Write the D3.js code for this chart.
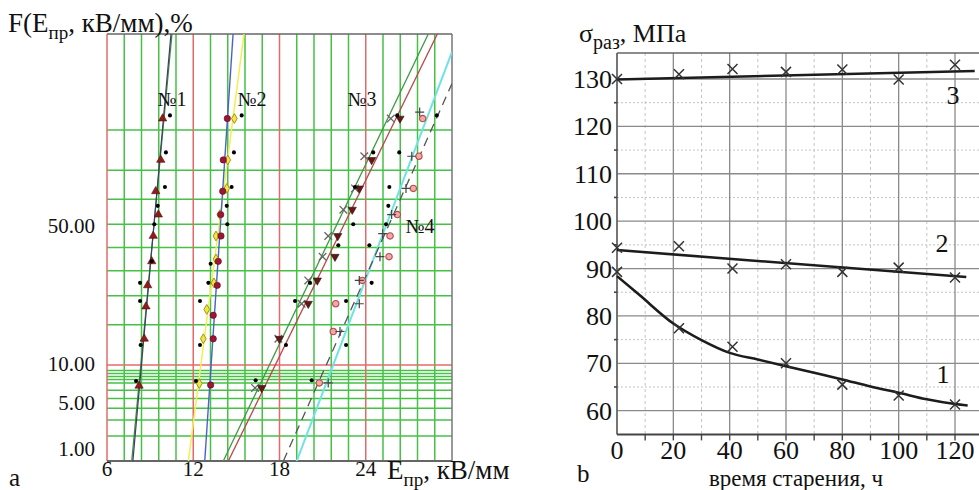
<!DOCTYPE html>
<html>
<head>
<meta charset="utf-8">
<script src="https://cdn.jsdelivr.net/npm/d3@7"></script>
<style>
body{margin:0;background:#fff;}
svg text{font-family:"Liberation Serif","Times New Roman","DejaVu Serif",serif;fill:#111;}
</style>
</head>
<body>
<svg id="chart" width="979" height="490"></svg>
<script>
// ---------- panel a : E_pr (kV/mm) vs F (%) on probability paper ----------
var xTicksA = [6, 12, 18, 24];
var yTicksA = [50, 10, 5, 1];
var yGridA = [2, 3, 4, 5, 6, 7, 7.5, 8, 8.5, 9, 10, 20, 30, 40, 50, 60, 70, 80, 90];

// №1
var g1TriE = [9.87, 9.74, 9.39, 9.57, 9.22, 9.11, 8.83, 8.71, 8.59, 8.23];
var g1TriF = [92, 83, 73, 64, 55, 44, 34, 26, 16, 6.6];
var g1DotE = [10.38, 10.10, 10.03, 9.53, 9.29, 9.11, 8.30, 8.30, 8.34, 8.02];
var g1DotF = [92.5, 85, 74.5, 67.5, 60, 44, 35, 28, 14.4, 7.3];
// №2
var g2CirE = [14.37, 14.09, 14.05, 13.91, 13.93, 13.74, 13.67, 13.39, 13.39, 13.21];
var g2CirF = [92, 83, 73, 64, 55, 44, 34, 23, 16, 6.7];
var g2DiaE = [14.86, 14.40, 14.33, 13.86, 13.58, 13.58, 13.44, 12.94, 12.70, 12.42];
var g2DiaF = [92, 83, 74, 64, 55, 45, 35, 25, 16, 6.9];
var g2DotE = [15.37, 14.83, 14.67, 14.33, 14.37, 13.21, 13.05, 12.47, 12.47, 12.19];
var g2DotF = [92.5, 85, 74.5, 67.5, 60, 43, 35, 28, 14.4, 7.3];
// №3
var g3CrsE = [25.74, 23.90, 23.25, 22.44, 21.39, 21.00, 20.00, 19.54, 17.92, 16.30];
var g3CrsF = [92, 84, 74, 66, 55, 46, 36, 27, 16, 6.3];
var g3TriE = [26.38, 24.41, 23.55, 23.06, 22.05, 21.86, 20.63, 20.00, 17.99, 16.76];
var g3TriF = [92, 83, 74, 66, 55, 46, 36, 27, 16, 6.3];
var g3DotE = [26.19, 24.52, 23.25, 23.13, 22.09, 20.12, 19.08, 18.45, 16.34];
var g3DotF = [92.5, 85, 74.5, 60, 51, 35, 28, 14.4, 7.4];
// №4
var g4CirE = [27.96, 27.70, 27.31, 26.20, 25.69, 25.62, 23.76, 21.91, 21.74, 20.77];
var g4CirF = [92, 84, 74, 64, 55, 46, 36, 27, 18, 7];
var g4PlsE = [27.75, 27.2, 26.8, 25.8, 25.18, 24.99, 23.55, 23.55, 22.21, 21.39];
var g4PlsF = [93, 84, 74, 64, 56, 46, 36, 27, 18, 7];
var g4DotE = [28.94, 26.33, 25.64, 25.57, 25.41, 24.25, 24.41, 22.63, 22.63, 20.24];
var g4DotF = [92.5, 85, 74.5, 67.5, 60, 51, 35, 28, 14.4, 7.4];

// fitted straight lines (E at the two ends, F at the two ends)
var fitF = [1, 99];
var fit1aE = [7.80, 10.45];
var fit1bE = [7.72, 10.52];
var fit2aE = [12.80, 14.77];
var fit2bE = [11.66, 15.53];
var fit3aE = [14.09, 28.35];
var fit3bE = [14.44, 28.98];
var fit4aE = [18.27, 30];
var fit4aF = [1, 96.3];
var fit4bE = [19.2, 30];
var fit4bF = [1, 98.35];

// ---------- panel b : strength vs ageing time ----------
var tHours = [0, 22, 41, 60, 80, 100, 120];
var sigma1 = [89.3, 77.4, 73.5, 70.0, 65.5, 63.2, 61.3];
var sigma2 = [94.4, 94.7, 90.0, 90.9, 89.3, 90.2, 88.1];
var sigma3 = [130.0, 131.0, 132.1, 131.5, 132.0, 129.9, 133.0];
var curve1T = [0, 8, 20, 30, 40, 50, 60, 70, 80, 90, 100, 110, 120, 124.5];
var curve1 = [88.4, 84.4, 78.4, 74.9, 72.2, 70.8, 69.4, 68.0, 66.6, 65.1, 63.8, 62.4, 61.4, 61.1];
var curve2T = [0, 124];
var curve2 = [93.9, 88.2];
var curve3T = [0, 127];
var curve3 = [129.9, 131.7];
var xTicksB = [0, 20, 40, 60, 80, 100, 120];
var yTicksB = [60, 70, 80, 90, 100, 110, 120, 130];

// inverse normal cdf (Acklam)
function probit(p){
    var a = [-39.69683028665376, 220.9460984245205, -275.9285104469687, 138.3577518672690, -30.66479806614716, 2.506628277459239];
    var b = [-54.47609879822406, 161.5858368580409, -155.6989798598866, 66.80131188771972, -13.28068155288572];
    var c = [-0.007784894002430293, -0.3223964580411365, -2.400758277161838, -2.549732539343734, 4.374664141464968, 2.938163982698783];
    var d = [0.007784695709041462, 0.3224671290700398, 2.445134137142996, 3.754408661907416];
    var q, r;
    if (p < 0.02425){
        q = Math.sqrt(-2*Math.log(p));
        return (((((c[0]*q+c[1])*q+c[2])*q+c[3])*q+c[4])*q+c[5]) / ((((d[0]*q+d[1])*q+d[2])*q+d[3])*q+1);
    }
    if (p > 1 - 0.02425){
        q = Math.sqrt(-2*Math.log(1-p));
        return -(((((c[0]*q+c[1])*q+c[2])*q+c[3])*q+c[4])*q+c[5]) / ((((d[0]*q+d[1])*q+d[2])*q+d[3])*q+1);
    }
    q = p - 0.5; r = q*q;
    return (((((a[0]*r+a[1])*r+a[2])*r+a[3])*r+a[4])*r+a[5])*q / (((((b[0]*r+b[1])*r+b[2])*r+b[3])*r+b[4])*r+1);
}

function pts(E, F){
    return E.map(function(e, i){ return {E: e, F: F[i]}; });
}

var svg = d3.select("#chart");
svg.append("rect").attr("width", 979).attr("height", 490).attr("fill", "#fff");

// ===== panel a =====
var xA = d3.scaleLinear().domain([6, 30]).range([107, 452]);
var zA = d3.scaleLinear().domain([probit(0.01), probit(0.99)]).range([461, 34]);
function yA(f){ return zA(probit(f/100)); }

var green = "#46c146", red = "#e46a6a";
var gA = svg.append("g");
svg.append("clipPath").attr("id", "clipA").append("rect")
    .attr("x", 107).attr("y", 34).attr("width", 345).attr("height", 427);

var vGrid = d3.range(6, 29.99, 1.2);
gA.selectAll(".vg").data(vGrid.filter(function(v){ return Math.abs(v/6 - Math.round(v/6)) > 0.01; }))
  .enter().append("line")
    .attr("x1", function(d){ return xA(d); }).attr("x2", function(d){ return xA(d); })
    .attr("y1", 34).attr("y2", 461).attr("stroke", green).attr("stroke-width", 1.5);
gA.selectAll(".hg").data(yGridA.filter(function(v){ return v != 10; }))
  .enter().append("line")
    .attr("x1", 107).attr("x2", 452)
    .attr("y1", function(d){ return yA(d); }).attr("y2", function(d){ return yA(d); })
    .attr("stroke", green).attr("stroke-width", 1.5);
gA.selectAll(".vr").data(xTicksA).enter().append("line")
    .attr("x1", function(d){ return xA(d); }).attr("x2", function(d){ return xA(d); })
    .attr("y1", 34).attr("y2", 461).attr("stroke", red).attr("stroke-width", 1.5);
gA.append("line").attr("x1", 107).attr("x2", 452).attr("y1", yA(10)).attr("y2", yA(10))
    .attr("stroke", red).attr("stroke-width", 1.5);

// frame
gA.append("line").attr("x1", 107).attr("x2", 452).attr("y1", 34).attr("y2", 34).attr("stroke", "#666").attr("stroke-width", 1.5);
gA.append("line").attr("x1", 452).attr("x2", 452).attr("y1", 34).attr("y2", 461).attr("stroke", "#777").attr("stroke-width", 1.5);
gA.append("line").attr("x1", 107).attr("x2", 452).attr("y1", 461).attr("y2", 461).attr("stroke", "#666").attr("stroke-width", 2);

// fitted lines
var lineA = d3.line().x(function(d){ return xA(d.E); }).y(function(d){ return yA(d.F); });
var fitLines = [
    {E: fit1bE, F: fitF, color: "#3a8f3a", w: 1.2},
    {E: fit1aE, F: fitF, color: "#3d3f66", w: 1.2},
    {E: fit2bE, F: fitF, color: "#f2f050", w: 1.5},
    {E: fit2aE, F: fitF, color: "#4a62c8", w: 1.4},
    {E: fit3aE, F: fitF, color: "#3f9a3f", w: 1.3},
    {E: fit3bE, F: fitF, color: "#b84848", w: 1.3},
    {E: fit4bE, F: fit4bF, color: "#6fe3e3", w: 2},
    {E: fit4aE, F: fit4aF, color: "#555", w: 1.3, dash: "9,6"}
];
var fitG = gA.append("g").attr("clip-path", "url(#clipA)");
fitLines.forEach(function(l){
    fitG.append("path").datum(pts(l.E, l.F)).attr("d", lineA)
        .attr("fill", "none").attr("stroke", l.color).attr("stroke-width", l.w)
        .attr("stroke-dasharray", l.dash || null);
});

// markers
var symTri = d3.symbol().type(d3.symbolTriangle).size(30);
var symCir = d3.symbol().type(d3.symbolCircle).size(32);
var symDia = d3.symbol().type(d3.symbolDiamond).size(28);
function crossPath(s){ return "M" + (-s) + "," + (-s) + "L" + s + "," + s + "M" + (-s) + "," + s + "L" + s + "," + (-s); }
function plusPath(s){ return "M" + (-s) + ",0L" + s + ",0M0," + (-s) + "L0," + s; }

function drawMarks(E, F, kind){
    var sel = gA.append("g").selectAll("path").data(pts(E, F)).enter().append("path")
        .attr("transform", function(d){
            var t = "translate(" + xA(d.E) + "," + yA(d.F) + ")";
            return kind == "down" ? t + " rotate(180)" : t;
        });
    if (kind == "tri") sel.attr("d", symTri).attr("fill", "#8e1c1c").attr("stroke", "#5a0e0e").attr("stroke-width", 0.6);
    if (kind == "down") sel.attr("d", symTri).attr("fill", "#6a1414").attr("stroke", "#222").attr("stroke-width", 0.6);
    if (kind == "cir") sel.attr("d", symCir).attr("fill", "#9e1536").attr("stroke", "#5a0a1c").attr("stroke-width", 0.6);
    if (kind == "dia") sel.attr("d", symDia).attr("fill", "#f2e640").attr("stroke", "#a89018").attr("stroke-width", 1);
    if (kind == "pink") sel.attr("d", symCir).attr("fill", "#f0a8a8").attr("stroke", "#b84a4a").attr("stroke-width", 1.1);
    if (kind == "x") sel.attr("d", crossPath(3.8)).attr("fill", "none").attr("stroke", "#666").attr("stroke-width", 1.3);
    if (kind == "plus") sel.attr("d", plusPath(4.5)).attr("fill", "none").attr("stroke", "#444").attr("stroke-width", 1.2);
    if (kind == "dot") sel.attr("d", d3.symbol().type(d3.symbolCircle).size(13)).attr("fill", "#000");
}
drawMarks(g1TriE, g1TriF, "tri");
drawMarks(g2DiaE, g2DiaF, "dia");
drawMarks(g2CirE, g2CirF, "cir");
drawMarks(g3CrsE, g3CrsF, "x");
drawMarks(g3TriE, g3TriF, "down");
drawMarks(g4CirE, g4CirF, "pink");
drawMarks(g4PlsE, g4PlsF, "plus");
drawMarks(g1DotE, g1DotF, "dot");
drawMarks(g2DotE, g2DotF, "dot");
drawMarks(g3DotE, g3DotF, "dot");
drawMarks(g4DotE, g4DotF, "dot");

// group labels
var grpLabels = ["№1", "№2", "№3", "№4"];
var grpPos = [[172, 106], [252, 106], [362, 106], [420, 233]];
gA.selectAll(".gl").data(grpLabels).enter().append("text")
    .attr("x", function(d, i){ return grpPos[i][0]; }).attr("y", function(d, i){ return grpPos[i][1]; })
    .attr("text-anchor", "middle").attr("font-size", 20).text(function(d){ return d; });

// tick labels (placed as in the original, a bit off their lines)
var yLabelShift = {50: -22, 10: -1, 5: 4, 1: -12};
gA.selectAll(".yl").data(yTicksA).enter().append("text")
    .attr("x", 95).attr("y", function(d){ return yA(d) + yLabelShift[d]; }).attr("dy", "0.35em")
    .attr("text-anchor", "end").attr("font-size", 21).text(function(d){ return d3.format(".2f")(d); });
gA.selectAll(".xl").data(xTicksA).enter().append("text")
    .attr("x", function(d){ return xA(d); }).attr("y", 476)
    .attr("text-anchor", "middle").attr("font-size", 21).text(function(d){ return d; });

var tA = gA.append("text").attr("x", 8).attr("y", 32).attr("font-size", 27);
tA.append("tspan").text("F(E");
tA.append("tspan").attr("dy", 7).attr("font-size", 19).text("пр");
tA.append("tspan").attr("dy", -7).text(", кВ/мм),%");
var xtA = gA.append("text").attr("x", 387).attr("y", 479).attr("font-size", 27);
xtA.append("tspan").text("E");
xtA.append("tspan").attr("dy", 7).attr("font-size", 19).text("пр");
xtA.append("tspan").attr("dy", -7).text(", кВ/мм");
gA.append("text").attr("x", 9).attr("y", 486).attr("font-size", 25).text("a");

// ===== panel b =====
var xB = d3.scaleLinear().domain([0, 120]).range([617, 955]);
var yB = d3.scaleLinear().domain([60, 130]).range([410.7, 79]);
var gB = svg.append("g");
var bTop = yB(135.5), bBot = yB(55), bRight = 979;

gB.selectAll(".mv").data(d3.range(10, 130, 20)).enter().append("line")
    .attr("x1", function(d){ return xB(d); }).attr("x2", function(d){ return xB(d); })
    .attr("y1", bTop).attr("y2", bBot).attr("stroke", "#c4c4c4").attr("stroke-width", 1).attr("stroke-dasharray", "3,3");
gB.selectAll(".mh").data(d3.range(65, 130, 10)).enter().append("line")
    .attr("x1", xB(0)).attr("x2", bRight)
    .attr("y1", function(d){ return yB(d); }).attr("y2", function(d){ return yB(d); })
    .attr("stroke", "#c4c4c4").attr("stroke-width", 1).attr("stroke-dasharray", "2,2");
gB.selectAll(".Mv").data(xTicksB.slice(1)).enter().append("line")
    .attr("x1", function(d){ return xB(d); }).attr("x2", function(d){ return xB(d); })
    .attr("y1", bTop).attr("y2", bBot).attr("stroke", "#8a8a8a").attr("stroke-width", 1.3);
gB.selectAll(".Mh").data(yTicksB).enter().append("line")
    .attr("x1", xB(0)).attr("x2", bRight)
    .attr("y1", function(d){ return yB(d); }).attr("y2", function(d){ return yB(d); })
    .attr("stroke", "#8a8a8a").attr("stroke-width", 1.3);

// axes frame
gB.append("line").attr("x1", xB(0)).attr("x2", bRight).attr("y1", bTop).attr("y2", bTop).attr("stroke", "#666").attr("stroke-width", 1.6);
gB.append("line").attr("x1", xB(0)).attr("x2", xB(0)).attr("y1", bTop).attr("y2", bBot).attr("stroke", "#666").attr("stroke-width", 1.8);
gB.append("line").attr("x1", xB(0)).attr("x2", bRight).attr("y1", bBot).attr("y2", bBot).attr("stroke", "#444").attr("stroke-width", 2);
gB.selectAll(".tk").data(d3.range(10, 130, 10)).enter().append("line")
    .attr("x1", function(d){ return xB(d); }).attr("x2", function(d){ return xB(d); })
    .attr("y1", bBot).attr("y2", bBot + 6).attr("stroke", "#444").attr("stroke-width", 1.4);
gB.selectAll(".tky").data(d3.range(65, 135, 10)).enter().append("line")
    .attr("x1", xB(0) - 3).attr("x2", xB(0)).attr("y1", function(d){ return yB(d); }).attr("y2", function(d){ return yB(d); })
    .attr("stroke", "#444").attr("stroke-width", 1.6);

gB.selectAll(".yl").data(yTicksB).enter().append("text")
    .attr("x", 612).attr("y", function(d){ return yB(d); }).attr("dy", "0.35em")
    .attr("text-anchor", "end").attr("font-size", 26).text(function(d){ return d; });
gB.selectAll(".xl").data(xTicksB).enter().append("text")
    .attr("x", function(d){ return xB(d); }).attr("y", 459)
    .attr("text-anchor", "middle").attr("font-size", 26).text(function(d){ return d; });

// fitted curves
var lineB = d3.line().x(function(d){ return xB(d[0]); }).y(function(d){ return yB(d[1]); }).curve(d3.curveMonotoneX);
[[curve1T, curve1], [curve2T, curve2], [curve3T, curve3]].forEach(function(c){
    gB.append("path").datum(d3.zip(c[0], c[1])).attr("d", lineB)
        .attr("fill", "none").attr("stroke", "#1c1c1c").attr("stroke-width", 2.6);
});
[sigma1, sigma2, sigma3].forEach(function(s){
    gB.append("g").selectAll("path").data(d3.zip(tHours, s)).enter().append("path")
        .attr("transform", function(d){ return "translate(" + xB(d[0]) + "," + yB(d[1]) + ")"; })
        .attr("d", crossPath(5)).attr("fill", "none").attr("stroke", "#333").attr("stroke-width", 1.5);
});

var curveLabels = ["3", "2", "1"];
var curveLabelPos = [[953, 104], [942, 252], [943, 383]];
gB.selectAll(".cl").data(curveLabels).enter().append("text")
    .attr("x", function(d, i){ return curveLabelPos[i][0]; }).attr("y", function(d, i){ return curveLabelPos[i][1]; })
    .attr("text-anchor", "middle").attr("font-size", 26).text(function(d){ return d; });

var tB = gB.append("text").attr("x", 579).attr("y", 42).attr("font-size", 26);
tB.append("tspan").text("σ");
tB.append("tspan").attr("dy", 7).attr("font-size", 20).text("раз");
tB.append("tspan").attr("dy", -7).text(", МПа");
gB.append("text").attr("x", 796).attr("y", 486).attr("text-anchor", "middle").attr("font-size", 23).text("время старения, ч");
gB.append("text").attr("x", 577).attr("y", 482).attr("font-size", 25).text("b");
</script>
</body>
</html>
